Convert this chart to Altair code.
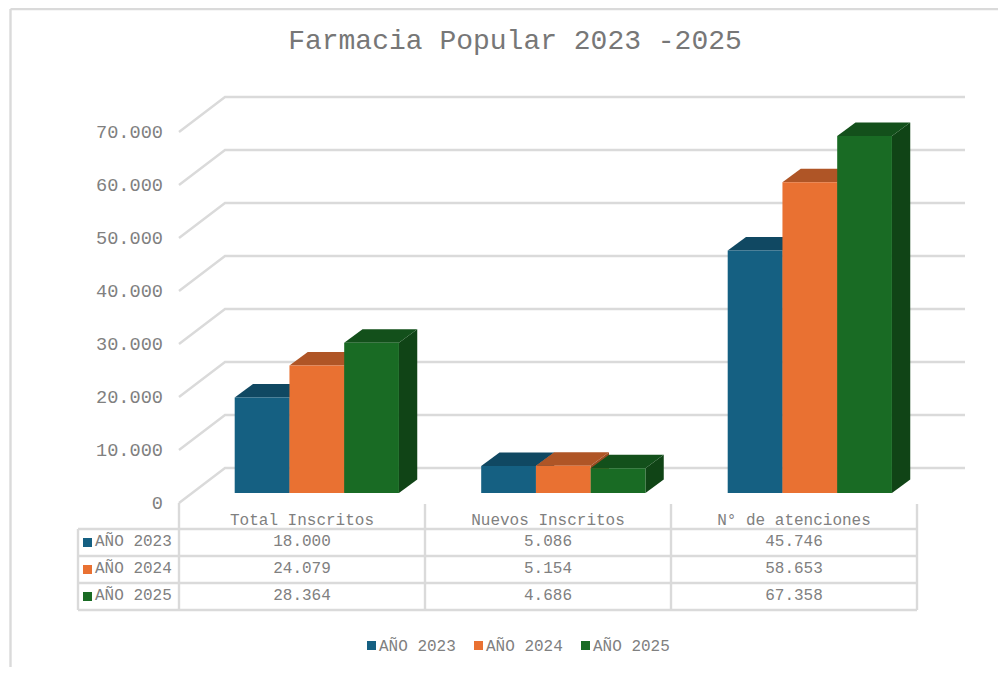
import altair as alt
import pandas as pd

# ---- values
categories = ["Total Inscritos", "Nuevos Inscritos", "N° de atenciones"]
series_names = ["AÑO 2023", "AÑO 2024", "AÑO 2025"]
values_2023 = [18000, 5086, 45746]
values_2024 = [24079, 5154, 58653]
values_2025 = [28364, 4686, 67358]
ticks = [0, 10000, 20000, 30000, 40000, 50000, 60000, 70000]
title_text = "Farmacia Popular 2023 -2025"
front = ["#156082", "#E97132", "#196B24"]
top_shade = ["#104862", "#AF5526", "#13501B"]
side_shade = ["#0E3F56", "#9A4B21", "#104416"]

series_values = [values_2023, values_2024, values_2025]
GRID = "#DADADA"
TXT = "#808080"
FONT = "Liberation Mono"
W, H = 990, 659


def fmt(v):
    return f"{v:,}".replace(",", ".")


# scale helpers: x is in category units, y in value units (page pixels -> units)
PX_CAT = 246.0
PX_VAL = 53.0 / 10000


def X(px):
    return (px - 179) / PX_CAT


def Y(px):
    return (503 - px) / PX_VAL


x_enc = alt.Scale(domain=[X(8), X(8 + W)], nice=False, zero=False)
y_enc = alt.Scale(domain=[Y(8 + H), Y(8)], nice=False, zero=False)
xq = alt.X("x:Q", scale=x_enc, axis=None)
yq = alt.Y("y:Q", scale=y_enc, axis=None)

WALL_DX = 46 / PX_CAT
WALL_DY = 35 / PX_VAL
BAR_BASE = 10 / PX_VAL
BAR_W = 54.75 / PX_CAT
BAR_STARTS = [55.7 / PX_CAT, 56.2 / PX_CAT, 56.7 / PX_CAT]
BAR_DX = 18.3 / PX_CAT
BAR_DY = 13.5 / PX_VAL
GRID_END = X(965)

# ---- back wall and floor grid
grid_rows = []
for t in ticks:
    grid_rows += [
        {"id": t, "x": 0, "y": t},
        {"id": t, "x": WALL_DX, "y": t + WALL_DY},
        {"id": t, "x": GRID_END, "y": t + WALL_DY},
    ]
grid = (
    alt.Chart(pd.DataFrame(grid_rows))
    .mark_line(color=GRID, strokeWidth=2.4)
    .encode(x=xq, y=yq, detail="id:N")
)


def rules(rows, width=2.4):
    return (
        alt.Chart(pd.DataFrame(rows, columns=["x", "x2", "y", "y2"]))
        .mark_rule(color=GRID, strokeWidth=width)
        .encode(x=xq, x2="x2:Q", y=yq, y2="y2:Q")
    )


# ---- chart frame
frame = rules(
    [
        [X(10.5), X(10.5), Y(9), Y(8 + H)],
        [X(10.5), X(1006), Y(9), Y(9)],
    ]
)

# ---- 3D columns, one set of faces per series
bar_layers = []
for s, (name, vals) in enumerate(zip(series_names, series_values)):
    side, top, face = [], [], []
    for c, v in enumerate(vals):
        x0 = c + BAR_STARTS[c] + s * BAR_W
        x1 = x0 + BAR_W
        b = BAR_BASE
        t = v + BAR_BASE
        side += [
            {"id": c, "x": x1, "y": t, "y2": b},
            {"id": c, "x": x1 + BAR_DX, "y": t + BAR_DY, "y2": b + BAR_DY},
        ]
        top += [
            {"id": c, "x": x0, "y": t, "y2": t},
            {"id": c, "x": x0 + BAR_DX, "y": t + BAR_DY, "y2": t},
            {"id": c, "x": x1, "y": t + BAR_DY, "y2": t},
            {"id": c, "x": x1 + BAR_DX, "y": t + BAR_DY, "y2": t + BAR_DY},
        ]
        face.append({"x": x0, "x2": x1, "y": t, "y2": b})
    bar_layers.append(
        alt.Chart(pd.DataFrame(side))
        .mark_area(color=side_shade[s], opacity=1)
        .encode(x=xq, y=yq, y2="y2:Q", detail="id:N")
    )
    bar_layers.append(
        alt.Chart(pd.DataFrame(top))
        .mark_area(color=top_shade[s], opacity=1)
        .encode(x=xq, y=yq, y2="y2:Q", detail="id:N")
    )
    bar_layers.append(
        alt.Chart(pd.DataFrame(face))
        .mark_rect(color=front[s], opacity=1)
        .encode(x=xq, x2="x2:Q", y=yq, y2="y2:Q")
    )

# ---- data table lines
table_lines = []
for py in [529, 556, 583, 610]:
    table_lines.append([X(78), X(917), Y(py), Y(py)])
table_lines.append([X(78), X(78), Y(529), Y(610)])
table_lines.append([X(179), X(179), Y(503), Y(610)])
for c in range(1, 4):
    table_lines.append([c, c, Y(504), Y(610)])
table = rules(table_lines)


# ---- text
def text_layer(rows, size, align, color=TXT):
    return (
        alt.Chart(pd.DataFrame(rows))
        .mark_text(font=FONT, fontSize=size, align=align, baseline="middle", color=color)
        .encode(x=xq, y=yq, text="t:N")
    )


title = text_layer([{"x": X(515), "y": Y(41), "t": title_text}], 28, "center", "#777777")
tick_text = text_layer(
    [{"x": X(163), "y": t, "t": fmt(t)} for t in ticks], 18.6, "right"
)
row_px = [541, 568, 595]
center_rows = [
    {"x": c + 0.5, "y": Y(520), "t": categories[c]} for c in range(3)
]
for s, vals in enumerate(series_values):
    for c, v in enumerate(vals):
        center_rows.append({"x": c + 0.5, "y": Y(row_px[s]), "t": fmt(v)})
center_text = text_layer(center_rows, 16, "center")

legend_x = [379, 486, 593]
left_rows = [
    {"x": X(95), "y": Y(row_px[s]), "t": series_names[s]} for s in range(3)
] + [{"x": X(legend_x[s]), "y": Y(645.5), "t": series_names[s]} for s in range(3)]
left_text = text_layer(left_rows, 16, "left")

sw_rows = []
for s in range(3):
    sw_rows.append(
        {"x": X(83), "x2": X(92), "y": Y(row_px[s] - 3), "y2": Y(row_px[s] + 6), "f": front[s]}
    )
    sw_rows.append(
        {"x": X(legend_x[s] - 12), "x2": X(legend_x[s] - 3), "y": Y(641), "y2": Y(650), "f": front[s]}
    )
swatches = (
    alt.Chart(pd.DataFrame(sw_rows))
    .mark_rect(opacity=1)
    .encode(x=xq, x2="x2:Q", y=yq, y2="y2:Q", color=alt.Color("f:N", scale=None))
)

chart = (
    alt.layer(frame, grid, *bar_layers, table, swatches, title, tick_text, center_text, left_text)
    .properties(
        width=W,
        height=H,
        padding=0,
        autosize=alt.AutoSizeParams(type="none"),
        background="white",
    )
    .configure_view(stroke=None)
)

chart.save("out.html", embed_options={"renderer": "svg", "actions": False})
